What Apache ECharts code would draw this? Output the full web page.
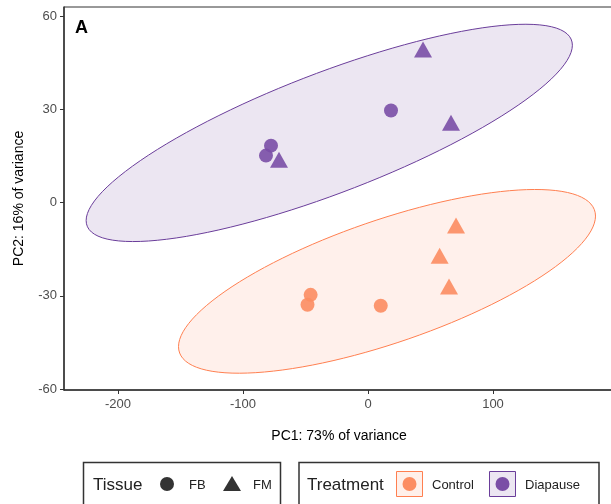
<!DOCTYPE html>
<html>
<head>
<meta charset="utf-8">
<script src="https://cdn.jsdelivr.net/npm/echarts@6/dist/echarts.min.js"></script>
<style>
  html, body { margin: 0; padding: 0; background: #fff; }
  #chart { width: 611px; height: 504px; }
</style>
</head>
<body>
<div id="chart"></div>
<script>
// PCA scores [PC1, PC2]
const diapauseFB = [[18.4, 29.6], [-77.6, 18.3], [-81.6, 15.1]];
const diapauseFM = [[44, 49.2], [66.4, 25.7], [-71.2, 13.8]];
const controlFB = [[-45.9, -29.7], [-48.4, -32.9], [10.2, -33.2]];
const controlFM = [[70.4, -7.4], [57.3, -17.1], [64.8, -27]];

// ellipse: centre x, centre y, half width, half height, y offset at x extreme
const diapauseEllipse = [-31, 22.4, 194.5, 34.95, 28.2];
const controlEllipse = [15.2, -25.35, 166.8, 29.55, 21];

const xTicks = [-200, -100, 0, 100];
const yTicks = [-60, -30, 0, 30, 60];

const purple = '#7a4ea6';
const orange = '#fc8d62';

const chart = echarts.init(document.getElementById('chart'));

function ellipseSeries(p, stroke, fill) {
  return {
    type: 'custom',
    data: [0],
    silent: true,
    z: 1,
    renderItem: function (params, api) {
      const pts = [];
      const k = Math.sqrt(p[3] * p[3] - p[4] * p[4]);
      for (let i = 0; i < 120; i++) {
        const t = i / 120 * Math.PI * 2;
        pts.push(api.coord([p[0] + p[2] * Math.cos(t), p[1] + p[4] * Math.cos(t) + k * Math.sin(t)]));
      }
      return {
        type: 'polygon',
        shape: { points: pts },
        style: { fill: fill, stroke: stroke, lineWidth: 1 }
      };
    }
  };
}

function pointSeries(data, color, symbol, size) {
  return {
    type: 'scatter',
    data: data,
    symbol: symbol,
    symbolSize: size,
    z: 3,
    itemStyle: { color: color, opacity: 0.9 }
  };
}

const axisFont = { color: '#4d4d4d', fontSize: 13, fontFamily: 'Liberation Sans Narrow, Liberation Sans, Arial' };

const option = {
  animation: false,
  grid: {
    left: 64, top: 7, right: -3, bottom: 114,
    outerBoundsMode: 'none',
    show: true, borderColor: '#333', borderWidth: 1
  },
  xAxis: {
    type: 'value',
    min: -243.2, max: 196.8,
    name: 'PC1: 73% of variance',
    nameLocation: 'middle',
    nameGap: 39,
    nameTextStyle: { color: '#000', fontSize: 14, fontFamily: 'Liberation Sans, Arial' },
    splitLine: { show: false },
    axisLine: { show: true, onZero: false, lineStyle: { color: '#333', width: 1.5 } },
    axisTick: { show: true, inside: false, length: 4, customValues: xTicks, lineStyle: { color: '#333' } },
    axisLabel: Object.assign({ customValues: xTicks, margin: 8 }, axisFont)
  },
  yAxis: {
    type: 'value',
    min: -60.3, max: 62.9,
    name: 'PC2: 16% of variance',
    nameLocation: 'middle',
    nameRotate: 90,
    nameGap: 38,
    nameTextStyle: { color: '#000', fontSize: 14, fontFamily: 'Liberation Sans, Arial' },
    splitLine: { show: false },
    axisLine: { show: true, onZero: false, lineStyle: { color: '#333', width: 1.5 } },
    axisTick: { show: true, inside: false, length: 4, customValues: yTicks, lineStyle: { color: '#333' } },
    axisLabel: Object.assign({ customValues: yTicks, margin: 7 }, axisFont)
  },
  graphic: [
    { type: 'text', left: 75, top: 19, style: { text: 'A', font: 'bold 18px Liberation Sans, Arial', fill: '#000' } },
    // Tissue legend
    { type: 'rect', shape: { x: 83.5, y: 462.5, width: 197, height: 50 }, style: { fill: '#fff', stroke: '#333', lineWidth: 1.5 } },
    { type: 'text', x: 93, y: 485, style: { text: 'Tissue', font: '17px Liberation Sans, Arial', fill: '#222', verticalAlign: 'middle' } },
    { type: 'circle', shape: { cx: 167, cy: 484, r: 7 }, style: { fill: '#333' } },
    { type: 'text', x: 189, y: 485, style: { text: 'FB', font: '13px Liberation Sans Narrow, Arial', fill: '#222', verticalAlign: 'middle' } },
    { type: 'polygon', shape: { points: [[223, 491], [241, 491], [232, 476]] }, style: { fill: '#333' } },
    { type: 'text', x: 253, y: 485, style: { text: 'FM', font: '13px Liberation Sans Narrow, Arial', fill: '#222', verticalAlign: 'middle' } },
    // Treatment legend
    { type: 'rect', shape: { x: 299, y: 462.5, width: 300, height: 50 }, style: { fill: '#fff', stroke: '#333', lineWidth: 1.5 } },
    { type: 'text', x: 307, y: 485, style: { text: 'Treatment', font: '17px Liberation Sans, Arial', fill: '#222', verticalAlign: 'middle' } },
    { type: 'rect', shape: { x: 396.5, y: 471.5, width: 26, height: 25 }, style: { fill: '#fff0ea', stroke: '#ff7f50', lineWidth: 1 } },
    { type: 'circle', shape: { cx: 409.5, cy: 484, r: 7 }, style: { fill: orange } },
    { type: 'text', x: 432, y: 485, style: { text: 'Control', font: '13px Liberation Sans Narrow, Arial', fill: '#222', verticalAlign: 'middle' } },
    { type: 'rect', shape: { x: 489.5, y: 471.5, width: 26, height: 25 }, style: { fill: '#ece6f2', stroke: '#6a3d9a', lineWidth: 1 } },
    { type: 'circle', shape: { cx: 502.5, cy: 484, r: 7 }, style: { fill: purple } },
    { type: 'text', x: 525, y: 485, style: { text: 'Diapause', font: '13px Liberation Sans Narrow, Arial', fill: '#222', verticalAlign: 'middle' } }
  ],
  series: [
    ellipseSeries(diapauseEllipse, '#6a3d9a', 'rgba(122,78,166,0.14)'),
    ellipseSeries(controlEllipse, '#ff7f50', 'rgba(255,140,100,0.13)'),
    pointSeries(diapauseFB, purple, 'circle', 14),
    pointSeries(diapauseFM, purple, 'triangle', [18, 16]),
    pointSeries(controlFB, orange, 'circle', 14),
    pointSeries(controlFM, orange, 'triangle', [18, 16])
  ]
};

chart.setOption(option);
</script>
</body>
</html>
